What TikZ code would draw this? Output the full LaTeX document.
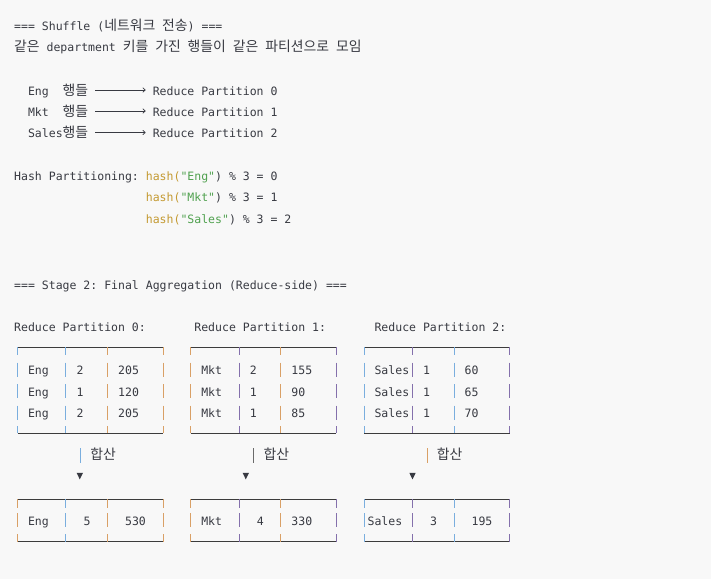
\documentclass[tikz,border=0pt]{standalone}
\usepackage{fontspec}
\usetikzlibrary{arrows.meta}
\newfontfamily\codefont{DejaVu Sans Mono}
\newfontfamily\kr[Scale=1.2042]{Noto Sans CJK KR}
\definecolor{bg}{HTML}{F8F8F8}
\definecolor{ink}{HTML}{383A42}
\definecolor{rulecol}{HTML}{3C3C3C}
\definecolor{fn}{HTML}{C49A32}
\definecolor{str}{HTML}{50A14F}
\definecolor{barblue}{HTML}{7AAEDE}
\definecolor{barorange}{HTML}{D9A066}
\definecolor{barpurple}{HTML}{8470AC}
\definecolor{bargray}{HTML}{6A6A6A}
\tikzset{
  txt/.style={anchor=west, inner sep=0pt, text height=11pt, text depth=1pt, text=ink,
    font=\fontsize{11.51pt}{14pt}\codefont\frenchspacing},
  rule/.style={draw=rulecol, line width=1pt},
  bar/.style={draw=#1, line width=0.95pt},
  flow/.style={draw=ink, line width=0.8pt, -{To[length=3pt,width=5pt]}, shorten <=7pt, shorten >=7pt}
}
\begin{document}
\begin{tikzpicture}[x=1pt, y=-1pt]
% Background
    \fill[bg] (0,0) rectangle (711,579);
% Shuffle
    \node[txt] (shuftitle) at (14,25) {=== Shuffle ({\kr 네트워크} {\kr 전송}) ===};
    \node[txt] (shufnote) at (14,46) {{\kr 같은} department {\kr 키를} {\kr 가진} {\kr 행들이} {\kr 같은} {\kr 파티션으로} {\kr 모임}};
    \node[txt] (src0) at (27.86,90) {Eng~~{\kr 행들}};
    \node[txt] (src1) at (27.86,111) {Mkt~~{\kr 행들}};
    \node[txt] (src2) at (27.86,132.5) {Sales{\kr 행들}};
    \node[txt] (dst0) at (152.6,90) {Reduce Partition 0};
    \node[txt] (dst1) at (152.6,111) {Reduce Partition 1};
    \node[txt] (dst2) at (152.6,132.5) {Reduce Partition 2};
    \draw[flow] (src0) -- (dst0);
    \draw[flow] (src1) -- (dst1);
    \draw[flow] (src2) -- (dst2);
% Hash partitioning
    \node[txt] (hashlbl) at (14,175) {Hash Partitioning:};
    \node[txt] (hash0) at (145.67,175) {\textcolor{fn}{hash(}\textcolor{str}{"Eng"}) \% 3 = 0};
    \node[txt] (hash1) at (145.67,196.7) {\textcolor{fn}{hash(}\textcolor{str}{"Mkt"}) \% 3 = 1};
    \node[txt] (hash2) at (145.67,218.4) {\textcolor{fn}{hash(}\textcolor{str}{"Sales"}) \% 3 = 2};
% Stage 2
    \node[txt] (stagetitle) at (14,284) {=== Stage 2: Final Aggregation (Reduce-side) ===};
    \node[txt] (rp0) at (14,326.7) {Reduce Partition 0:};
    \node[txt] (rp1) at (194.18,326.7) {Reduce Partition 1:};
    \node[txt] (rp2) at (374.36,326.7) {Reduce Partition 2:};
% Partition tables
    \draw[rule] (17.5,347) -- (163,347);
    \draw[rule] (17.5,433) -- (163,433);
    \draw[rule] (190.7,347) -- (336.2,347);
    \draw[rule] (190.7,433) -- (336.2,433);
    \draw[rule] (364,347) -- (509.5,347);
    \draw[rule] (364,433) -- (509.5,433);
    \foreach \x/\c in {17.5/barblue, 65.9/barblue, 107.5/barorange, 163/barorange,
                       190.7/barorange, 239.2/barpurple, 280.8/barorange, 336.2/barpurple,
                       364/barblue, 412.5/barpurple, 454/barblue, 509.5/barpurple}{
        \draw[bar=\c] (\x,347) -- (\x,355);
        \foreach \y in {369.5,391,412.5}
            \draw[bar=\c] (\x,\y-7) -- (\x,\y+7);
        \draw[bar=\c] (\x,426) -- (\x,433);
    }
    \foreach \y/\n/\s [count=\i] in {369.5/2/205, 391/1/120, 412.5/2/205}{
        \node[txt] (p0k\i) at (27.86,\y) {Eng};
        \node[txt] (p0n\i) at (76.37,\y) {\n};
        \node[txt] (p0s\i) at (117.95,\y) {\s};
    }
    \foreach \y/\n/\s [count=\i] in {369.5/2/155, 391/1/90, 412.5/1/85}{
        \node[txt] (p1k\i) at (201.11,\y) {Mkt};
        \node[txt] (p1n\i) at (249.62,\y) {\n};
        \node[txt] (p1s\i) at (291.2,\y) {\s};
    }
    \foreach \y/\n/\s [count=\i] in {369.5/1/60, 391/1/65, 412.5/1/70}{
        \node[txt] (p2k\i) at (374.36,\y) {Sales};
        \node[txt] (p2n\i) at (422.87,\y) {\n};
        \node[txt] (p2s\i) at (464.45,\y) {\s};
    }
% Sum markers
    \draw[bar=barblue] (80,448) -- (80,463);
    \draw[bar=bargray] (253,448) -- (253,463);
    \draw[bar=barorange] (427.3,448) -- (427.3,463);
    \node[txt] (sum0) at (90.23,454) {\kr 합산};
    \node[txt] (sum1) at (263.48,454) {\kr 합산};
    \node[txt] (sum2) at (436.73,454) {\kr 합산};
    \fill[ink] (76.6,472.8) -- (83,472.8) -- (79.8,479.4) -- cycle;
    \fill[ink] (242.6,472.8) -- (249,472.8) -- (245.8,479.4) -- cycle;
    \fill[ink] (409.3,472.8) -- (415.7,472.8) -- (412.5,479.4) -- cycle;
% Result tables
    \draw[rule] (17.5,499) -- (163,499);
    \draw[rule] (17.5,541.5) -- (163,541.5);
    \draw[rule] (190.7,499) -- (336.2,499);
    \draw[rule] (190.7,541.5) -- (336.2,541.5);
    \draw[rule] (364,499) -- (509.5,499);
    \draw[rule] (364,541.5) -- (509.5,541.5);
    \foreach \x/\c in {17.5/barorange, 65.9/barblue, 107.5/barorange, 163/barorange,
                       190.7/barorange, 239.2/barpurple, 280.8/barorange, 336.2/barpurple,
                       364/barblue, 412.5/barpurple, 454/barblue, 509.5/barpurple}{
        \draw[bar=\c] (\x,499) -- (\x,507.5);
        \draw[bar=\c] (\x,513) -- (\x,527);
        \draw[bar=\c] (\x,534) -- (\x,541.5);
    }
    \node[txt] (r0k) at (27.86,520) {Eng};
    \node[txt] (r0n) at (83.3,520) {5};
    \node[txt] (r0s) at (124.88,520) {530};
    \node[txt] (r1k) at (201.11,520) {Mkt};
    \node[txt] (r1n) at (256.55,520) {4};
    \node[txt] (r1s) at (291.2,520) {330};
    \node[txt] (r2k) at (367.43,520) {Sales};
    \node[txt] (r2n) at (429.8,520) {3};
    \node[txt] (r2s) at (471.38,520) {195};
\end{tikzpicture}
\end{document}
